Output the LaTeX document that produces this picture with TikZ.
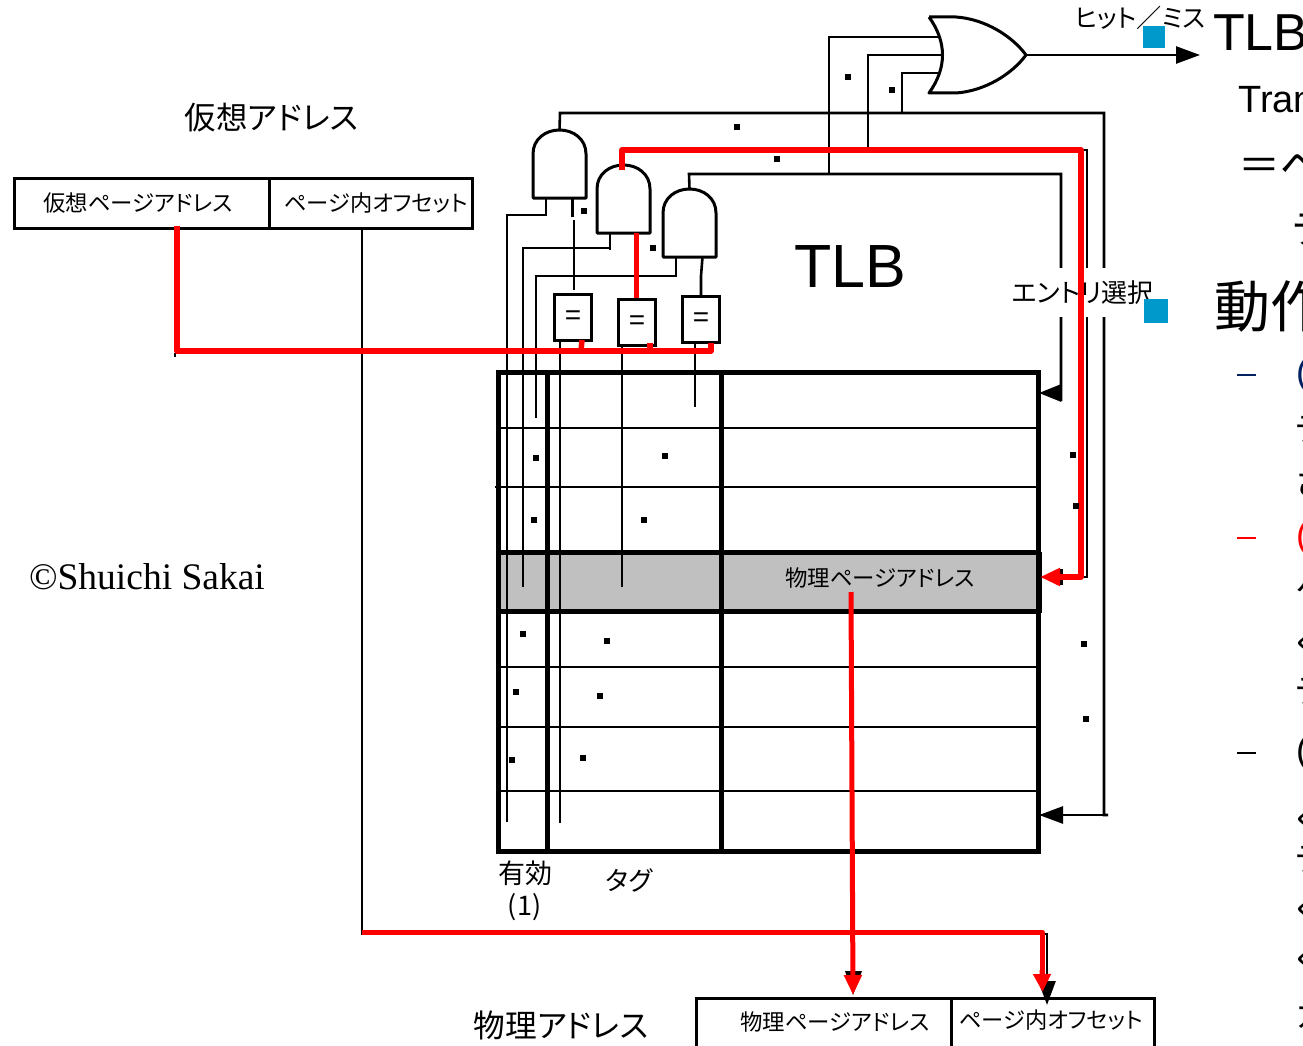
\documentclass[tikz,border=0pt]{standalone}
\usepackage{fontspec}
\setmainfont{Liberation Sans}
\newfontfamily\jp[RawFeature={+palt}]{Noto Sans CJK JP}
\newfontfamily\serifc{Liberation Serif}
\usetikzlibrary{arrows.meta,calc}
\definecolor{blueb}{HTML}{0099CC}
\definecolor{navyd}{HTML}{002060}
\definecolor{band}{HTML}{C0C0C0}
\newcommand{\fsz}[1]{\fontsize{#1pt}{#1pt}\selectfont}
\tikzset{
  wire/.style={draw=black,line width=2.6pt},
  redwire/.style={draw=red,line width=5.5pt,line join=round},
  gateline/.style={draw=black,line width=3pt,line join=round},
  tablethick/.style={draw=black,line width=5pt},
  tablethin/.style={draw=black,line width=2.6pt},
  addrbox/.style={draw=black,line width=3pt,inner sep=0pt,anchor=north west},
  eqbox/.style={draw=black,line width=3pt,minimum width=37pt,inner sep=0pt,anchor=north west,font=\fsz{28}},
  txt/.style={inner sep=0pt,font=\jp\fsz{#1},text=black},
  bluesq/.style={fill=blueb},
  blackhead/.style={-{Triangle[length=24pt,width=17pt,color=black]}},
  redhead/.style={-{Triangle[length=20pt,width=17pt,color=red]}},
  andgate/.pic={
    \draw[gateline] (-26.5,0) -- (-26.5,-44) .. controls (-26.5,-59) and (-14,-68) .. (0,-68)
      .. controls (14,-68) and (26.5,-59) .. (26.5,-44) -- (26.5,0) -- cycle;
    \coordinate (-top) at (0,-68);
    \coordinate (-a) at (-13.5,0);
    \coordinate (-b) at (13,0);
  }
}
\begin{document}
\begin{tikzpicture}[x=1pt,y=-1pt]
\useasboundingbox (0,0) rectangle (1303,1046);
\clip (0,0) rectangle (1303,1046);
\fill[white] (0,0) rectangle (1303,1046);

% TLB array
\fill[band] (498,552) rectangle (1042,612);
\foreach \yy in {428,667,727,791} \draw[tablethin] (498,\yy) -- (1038,\yy);
\draw[tablethin] (495,487) -- (1038,487);
\draw[tablethick] (498.5,372) rectangle (1038,851);
\draw[tablethick] (547,372) -- (547,851);
\draw[tablethick] (721.5,372) -- (721.5,851);
\draw[tablethick] (498.5,552) -- (1041,552);
\draw[tablethick] (498.5,611) -- (1041,611);
\draw[draw=black,line width=4pt] (1040,552) -- (1040,613);

% Logic
\pic (g1) at (559.5,198) {andgate};
\pic (g2) at (623.5,233) {andgate};
\pic (g3) at (689.5,257) {andgate};
\node[eqbox,minimum height=46pt] (e1) at (553,293) {=};
\node[eqbox,minimum height=46pt] (e2) at (617,298) {=};
\node[eqbox,minimum height=46pt] (e3) at (681,295) {=};

% OR gate
\draw[gateline] (929,17) -- (956,17) .. controls (985,19) and (1012,36) .. (1026,55)
  .. controls (1012,74) and (985,91) .. (956,93) -- (929,93)
  .. controls (947,68) and (947,42) .. (929,17);
\coordinate (ortip) at (1026,55);
\coordinate (or1) at (939,37);
\coordinate (or2) at (943,55);
\coordinate (or3) at (939,73);
\coordinate (hit) at (1200,55);
\draw[wire,blackhead] (ortip) -- (hit);

% Address boxes
\node[addrbox,minimum width=255pt,minimum height=50pt] (vpage) at (13,177) {};
\node[addrbox,minimum width=203pt,minimum height=50pt] (voff) at (268,177) {};
\node[addrbox,minimum width=255pt,minimum height=70pt] (ppage) at (695,997) {};
\node[addrbox,minimum width=203pt,minimum height=70pt] (poff) at (950,997) {};

% Named routing points
\coordinate (s1) at (1104,815);
\coordinate (t1) at (1039,815);
\coordinate (t3) at (1039,393);
\coordinate (t2) at (1040,577);
\coordinate (voffout) at (362,228);
\coordinate (poffin) at (1047,1005);
\coordinate (ppagein) at (853,995);
\coordinate (vpageout) at (177,226);
\coordinate (ppageout) at (851,592);

% Black wires
\draw[wire] (g1-top) -- (560,113) -- (1104,113) -- (s1) -- (1108,815);
\draw[wire,blackhead] (s1) -- (t1);
\draw[wire] (g3-top) -- (689,174) -- (1061,174) -- (1061,401);
\draw[wire,-{Triangle[length=22pt,width=17pt,color=black]}] (1061,393) -- (t3);
\draw[wire] (1081,150) -- (1087,150) -- (1087,577) -- (1060,577);
\fill[black] (1060,569) rectangle (1063,585);
\draw[wire] (829,174) -- (829,37) -- (or1);
\draw[wire] (868,150) -- (868,55) -- (or2);
\draw[wire] (902,113) -- (902,73) -- (or3);
\draw[wire] (g1-a) -- (546,215) -- (507,215) -- (507,822);
\draw[wire] (g1-b) -- (572.5,217);
\draw[wire] (574,220) -- (574,290);
\draw[wire] (g2-a) -- (610,250);
\draw[wire] (610,248) -- (523,248) -- (523,587);
\draw[wire] (g3-a) -- (676,276) -- (536,276) -- (536,418);
\draw[wire] (g3-b) -- (701,276) -- (e3.north -| 701,296);
\draw[wire] (e1.south -| 560,340) -- (560,823);
\draw[wire] (e2.south -| 622,345) -- (622,587);
\draw[wire] (e3.south -| 695,342) -- (695,407);
\draw[wire] (voffout) -- (362,934) -- (1047,934) -- (1047,984);
\draw[wire,blackhead] (1047,983) -- (poffin);
\draw[wire,line width=1.5pt] (175,357) -- (175,353.5) -- (711,353.5);
\fill[black] (845,971) -- (862,971) -- (ppagein) -- cycle;

% Labels with white ground
\node[txt=26,fill=white,minimum height=49pt,inner xsep=1pt] (lentry) at (1082.5,292.5) {\raisebox{2pt}{エントリ選択}};

% Red path
\draw[redwire] (vpageout) -- (177,351) -- (711,351) -- (711,343);
\draw[redwire,line width=6.5pt] (vpageout) -- (177,348);
\draw[redwire] (581,351) -- (582,340);
\draw[redwire] (650,351) -- (650,343);
\draw[redwire] (g2-b) -- (e2.north -| 636.5,299);
\draw[redwire] (622,170) -- (622,150) -- (1081,150) -- (1081,577) -- (1060,577);
\draw[red,line width=5pt,-{Triangle[length=20pt,width=17pt,color=red]}] (1062,577) -- (t2);
\draw[red,line width=5pt,-{Triangle[length=20pt,width=17pt,color=red]}] (ppageout) -- (ppagein);
\draw[redwire,line width=5pt] (362,932) -- (1042,932) -- (1042,975);
\draw[red,line width=5pt,-{Triangle[length=18pt,width=17pt,color=red]}] (1042,970) -- (1042.5,992);

% Text
\node[txt=31.5] (lvaddr) at (271.5,117.5) {仮想アドレス};
\node[txt=22.4] (lvpage) at (138,203) {仮想ページアドレス};
\node[txt=22.3] (lvoff) at (376,203) {ページ内オフセット};
\node[txt=31.7] (lpaddr) at (561,1025) {物理アドレス};
\node[txt=22.4] (lppage) at (835,1022) {物理ページアドレス};
\node[txt=22.3] (lpoff) at (1051,1020) {ページ内オフセット};
\node[txt=22.4] (lband) at (880,578) {物理ページアドレス};
\node[txt=27] (lvalid) at (525,873) {有効};
\node[txt=27] (lone) at (524.5,907) {(1)};
\node[txt=26] (ltag) at (629,880) {タグ};
\node[txt=25.2] (lhit) at (1140,18) {ヒット／ミス};
\node[inner sep=0pt,font=\fsz{61}] (ltlb) at (850,267) {TLB};
\node[inner sep=0pt,font=\serifc\fsz{37.5}] (lcopy) at (147,577) {©Shuichi Sakai};

% Slide layer (blue bullets and the text cut by the right edge)
\fill[bluesq] (1143,26) rectangle (1165,48);
\fill[bluesq] (1144,299) rectangle (1168,323);
\node[anchor=west,inner sep=0pt,font=\fsz{52}] (stlb) at (1213,33) {TLB};
\node[anchor=west,inner sep=0pt,font=\fsz{38}] (stran) at (1238,100) {Tran};
\node[anchor=west,txt=42] (spe) at (1238,165) {＝ペ};
\node[anchor=west,txt=40] (ste) at (1293,230) {テ};
\node[anchor=west,txt=56] (sdou) at (1214,306) {動作};
\draw[navyd,line width=2.6pt] (1237,375) -- (1256,375);
\draw[red,line width=2.6pt] (1237,538) -- (1256,538);
\draw[black,line width=2.6pt] (1237,753) -- (1256,753);
\node[anchor=west,inner sep=0pt,font=\fsz{36},text=navyd] (p1) at (1296,375) {(};
\node[anchor=west,inner sep=0pt,font=\fsz{36},text=red] (p2) at (1296,538) {(};
\node[anchor=west,inner sep=0pt,font=\fsz{36}] (p3) at (1296,753) {(};
\node[anchor=west,txt=34] at (1296,430) (f1) {テ};
\node[anchor=west,txt=34] at (1296,483) (f2) {さ};
\node[anchor=west,txt=34] at (1296,590) (f3) {ケ};
\node[anchor=west,txt=34] at (1296,644) (f4) {く};
\node[anchor=west,txt=34] at (1296,692) (f5) {テ};
\node[anchor=west,txt=34] at (1296,820) (f6) {く};
\node[anchor=west,txt=34] at (1296,860) (f7) {テ};
\node[anchor=west,txt=34] at (1296,910) (f8) {く};
\node[anchor=west,txt=34] at (1296,960) (f9) {く};
\node[anchor=west,txt=34] at (1296,1015) (f10) {カ};

% Stray dots
\foreach \px/\py in {737/127,777/159,848/77,892/90,584/211,653/248,665/456,536/458,644/520,534/520,523/634,607/641,516/692,600/696,512/760,583/758,1073/455,1076/506,1084/644,1086/719}
  \fill[black] (\px-3,\py-3) rectangle (\px+3,\py+3);
\end{tikzpicture}
\end{document}
